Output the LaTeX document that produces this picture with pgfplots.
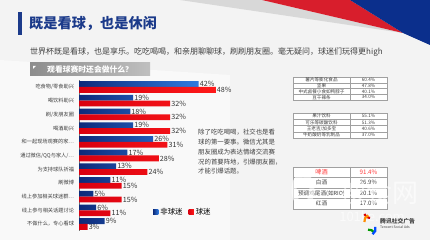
\documentclass[border=0pt]{standalone}
\usepackage{pgfplots}
\pgfplotsset{compat=1.18}
\usepackage{fontspec}
\setmainfont{Noto Sans CJK SC}
\definecolor{bg}{HTML}{F3F3F3}
\definecolor{titleblue}{HTML}{1B3A8A}
\definecolor{barblueL}{HTML}{0D2A7A}
\definecolor{barblueR}{HTML}{2F7BE0}
\definecolor{barredL}{HTML}{D9000F}
\definecolor{barredR}{HTML}{FF1A1A}
\definecolor{decred}{HTML}{D81E2C}
\definecolor{decblue}{HTML}{0B2F8C}
\definecolor{band}{HTML}{D8D8D8}
\definecolor{txt}{HTML}{404040}
\definecolor{tabline}{HTML}{A0A0A0}
\definecolor{hl}{HTML}{FF3B3B}
\newcommand{\fs}[1]{\fontsize{#1}{#1}\selectfont}
\begin{document}
\begin{tikzpicture}
\begin{scope}[shift={(0pt,240pt)}, x=1pt, y=-1pt]
\useasboundingbox (0,0) rectangle (430,240);
\fill[bg] (0,0) rectangle (430,240);
\fill[white,opacity=0.5] (0,60) -- (230,75) -- (230,240) -- (0,240) -- cycle;
% decoration top right
\fill[band] (180,0) -- (262,0) -- (403,33) -- cycle;
\fill[decred] (262,0) -- (350,0) -- (403,33) -- cycle;
\fill[decblue] (350,0) -- (430,0) -- (430,45) -- (403,33) -- cycle;
% title
\fill[titleblue] (18,12) rectangle (21.5,35);
\node[anchor=west, inner sep=0pt, text=titleblue, font=\fs{14.2}\bfseries] at (29,24) {既是看球，也是休闲};
\node[anchor=west, inner sep=0pt, text=txt, font=\fs{8}] at (30,52) {世界杯既是看球，也是享乐。吃吃喝喝，和亲朋聊聊球，刷刷朋友圈。毫无疑问，球迷们玩得更high};
% header box
\shade[left color=black!45, right color=black!25] (30,63) rectangle (150,75.5);
\fill[white] (33,66) -- (36,66) -- (33,69) -- cycle;
\node[anchor=west, inner sep=0pt, text=white, font=\fs{7.8}\bfseries] at (47,69.3) {观看球赛时还会做什么？};
% paragraph
\node[anchor=north west, inner sep=0pt, text=txt, font=\fs{6.4}, align=left] at (198,129) {除了吃吃喝喝，社交也是看\\[3.4pt]球的第一要事。微信尤其是\\[3.4pt]朋友圈成为表达情绪交流赛\\[3.4pt]况的首要阵地，引爆朋友圈，\\[3.4pt]才能引爆话题。};
% table 1
\fill[white] (293,77) rectangle (387,100.2);
\draw[tabline, line width=0.4pt] (293,77) rectangle (387,100.2);
\draw[tabline, line width=0.4pt] (350,77) -- (350,100.2);
\foreach \yy in {82.8,88.6,94.4} \draw[tabline, line width=0.4pt] (293,\yy) -- (387,\yy);
\foreach \a/\b/\yy in {薯片等膨化食品/60.4\%/79.9, 坚果/47.8\%/85.7, 中式卤餐小食如鸭脖子/40.1\%/91.5, 豆干辣条/34.0\%/97.3}{
  \node[text=txt, font=\fs{4.6}, inner sep=0pt] at (321.5,\yy) {\a};
  \node[text=txt, font=\fs{4.6}, inner sep=0pt] at (368.5,\yy) {\b};
}
% table 2
\fill[white] (293,113) rectangle (387,138);
\draw[tabline, line width=0.4pt] (293,113) rectangle (387,138);
\draw[tabline, line width=0.4pt] (350,113) -- (350,138);
\foreach \yy in {119.25,125.5,131.75} \draw[tabline, line width=0.4pt] (293,\yy) -- (387,\yy);
\foreach \a/\b/\yy in {果汁饮料/55.1\%/116.1, 可乐等碳酸饮料/51.3\%/122.4, {王老吉/加多宝}/40.6\%/128.6, 牛奶酸奶等乳制品/37.0\%/134.9}{
  \node[text=txt, font=\fs{4.6}, inner sep=0pt] at (321.5,\yy) {\a};
  \node[text=txt, font=\fs{4.6}, inner sep=0pt] at (368.5,\yy) {\b};
}
% table 3
\fill[white] (293,167) rectangle (387,209);
\draw[tabline, line width=0.4pt] (293,167) rectangle (387,209);
\draw[tabline, line width=0.4pt] (350,167) -- (350,209);
\foreach \yy in {177.5,188,198.5} \draw[tabline, line width=0.4pt] (293,\yy) -- (387,\yy);
\node[text=hl, font=\fs{6.2}, inner sep=0pt] at (321.5,172.3) {啤酒};
\node[text=hl, font=\fs{6.2}, inner sep=0pt] at (368.5,172.3) {91.4\%};
\foreach \a/\b/\yy in {白酒/26.9\%/182.8, 预调鸡尾酒(如RIO)/20.1\%/193.3, 红酒/17.0\%/203.8}{
  \node[text=txt, font=\fs{5.6}, inner sep=0pt] at (321.5,\yy) {\a};
  \node[text=txt, font=\fs{6}, inner sep=0pt] at (368.5,\yy) {\b};
}
% watermark
\begin{scope}[opacity=0.6]
\draw[white, line width=5pt] (303,190) ellipse (9pt and 15pt);
\node[text=white, font=\fs{26}, inner sep=0pt] at (379,193) {搜食网};
\node[text=white, font=\fs{13}\itshape, inner sep=0pt] at (372,216) {101ke.com};
\end{scope}
% logo
\draw[red!85!black, line width=2.2pt] (370,218) arc[start angle=90, end angle=160, radius=6];
\draw[orange!90!yellow, line width=2.2pt] (364.4,222) arc[start angle=170, end angle=250, radius=6];
\draw[green!60!black, line width=2.2pt] (368,229.7) arc[start angle=260, end angle=330, radius=6];
\draw[blue!70!cyan, line width=2.2pt] (375.2,227) arc[start angle=340, end angle=420, radius=6];
\node[anchor=west, text=txt, font=\fs{5.8}\bfseries, inner sep=0pt] at (380,221) {腾讯社交广告};
\node[anchor=west, text=txt, font=\fs{3.4}, inner sep=0pt] at (380,227.5) {Tencent Social Ads};
\end{scope}
\begin{axis}[
  at={(79pt,9.15pt)}, anchor=south west,
  width=142.5pt, height=150.7pt, scale only axis,
  xmin=0, xmax=50, ymin=-0.5, ymax=10.5, y dir=reverse,
  xbar, bar width=5.8pt, bar shift=0pt,
  hide x axis,
  axis y line*=left,
  y axis line style={draw=black!55, line width=0.6pt, -},
  ytick={0,...,10},
  yticklabels={吃食物/零食助兴, 喝饮料助兴, 刷/发朋友圈, 喝酒助兴, 和一起现场观赛的家…, 通过微信/QQ与家人/…, 为支持球队祈福, 刷微博, 线上参加相关球迷群…, 线上参与相关话题讨论, 不做什么，专心看球},
  yticklabel style={font=\fs{5.2}, text=txt, xshift=-1.5pt},
  major tick length=0pt,
  point meta=x,
  nodes near coords={\pgfmathprintnumber{\pgfplotspointmeta}\%},
  nodes near coords align={horizontal},
  every node near coord/.append style={font=\fs{7.2}, text=black!80, inner sep=1pt, anchor=west},
  /pgf/number format/assume math mode=true,
  clip=false,
  legend image code/.code={\fill[#1] (0pt,-2.6pt) rectangle (5.2pt,2.6pt);},
  legend style={at={(0.519,0.125)}, anchor=west, draw=none, fill=none, legend columns=2, font=\fs{7.4}, inner sep=0pt, /tikz/every even column/.append style={column sep=4pt}},
]
\addplot[draw=none, left color=barblueL, right color=barblueR] coordinates {
(42,-0.21) (19,0.79) (18,1.79) (19,2.79) (26,3.79) (17,4.79) (13,5.79) (11,6.79) (5,7.79) (6,8.79) (9,9.79)};
\addlegendentry{非球迷}
\addplot[draw=none, left color=barredL, right color=barredR] coordinates {
(48,0.21) (32,1.21) (32,2.21) (32,3.21) (31,4.21) (28,5.21) (24,6.21) (15,7.21) (15,8.21) (11,9.21) (3,10.21)};
\addlegendentry{球迷}
\end{axis}
\end{tikzpicture}
\end{document}
